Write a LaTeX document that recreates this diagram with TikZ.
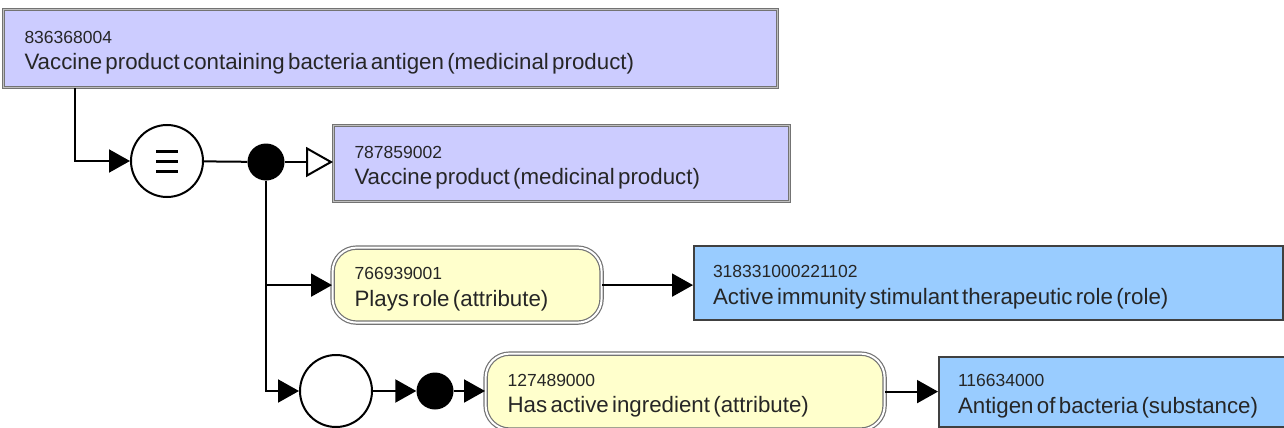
\documentclass[tikz,border=0pt]{standalone}
\usepackage{fontspec}
\setmainfont{Liberation Sans}
\usetikzlibrary{positioning,arrows.meta,calc}

\definecolor{primfill}{RGB}{204,204,255}
\definecolor{valfill}{RGB}{153,204,255}
\definecolor{attrfill}{RGB}{255,255,204}

\newcommand{\idfont}{\fontsize{17.5}{19}\selectfont}
\newcommand{\labfont}{\fontsize{22.3}{26}\selectfont}
\newcommand{\concept}[2]{{\idfont\rule{0pt}{20.5pt}#1}\\[9pt]{\labfont #2}}

\begin{document}
\begin{tikzpicture}[
  x=1pt, y=-1pt,
  primbox/.style={draw=black!55, double=black!25, double distance=1.5pt, line width=1pt,
    fill=primfill, anchor=north west, align=left, inner xsep=21pt, text=black!85},
  valbox/.style={draw=black!75, line width=2pt, fill=valfill, anchor=north west,
    align=left, inner xsep=19pt, text=black!85},
  attrbox/.style={draw=black!55, double=white, double distance=2pt, line width=1.2pt,
    rounded corners=24pt, fill=attrfill, anchor=north west, align=left, inner xsep=22pt, text=black!85},
  ring/.style={circle, draw, line width=2pt, minimum size=72pt, inner sep=0pt, fill=white},
  dot/.style={circle, fill=black, minimum size=37pt, inner sep=0pt},
  arrow/.style={-{Triangle[length=21pt,width=23pt]}, line width=2pt},
  isa/.style={-{Triangle[open,length=27pt,width=30pt]}, line width=2pt},
]
\useasboundingbox (0,0) rectangle (1284,428);

% Defined concept
\node[primbox, minimum width=774pt, minimum height=78pt, text width=732pt] (top) at (3,9)
  {\concept{836368004}{Vaccine product containing bacteria antigen (medicinal product)}};

% Equivalence and conjunction
\node[ring] (eq) at (167,161) {};
\foreach \dy in {-10,0,10}
  \draw[line width=3pt] ($(eq.center)+(-11,\dy)$) -- ++(22,0);
\node[dot] (dot1) at (266,162) {};

% Parent
\node[primbox, minimum width=456pt, minimum height=76pt, text width=414pt] (parent) at (333,125)
  {\concept{787859002}{Vaccine product (medicinal product)}};

% Ungrouped attribute
\node[attrbox, minimum width=269pt, minimum height=75pt, text width=225pt] (role) at (332,247)
  {\concept{766939001}{Plays role (attribute)}};
\node[valbox, minimum width=589pt, minimum height=74pt, text width=551pt] (roleval) at (693,245)
  {\concept{318331000221102}{Active immunity stimulant therapeutic role (role)}};

% Role group
\node[ring] (grp) at (336,391) {};
\node[dot] (dot2) at (435,391) {};
\node[attrbox, minimum width=399pt, minimum height=76pt, text width=355pt] (ingr) at (485,353)
  {\concept{127489000}{Has active ingredient (attribute)}};
\node[valbox, minimum width=350pt, minimum height=70pt, text width=312pt] (ingrval) at (938,356)
  {\concept{116634000}{Antigen of bacteria (substance)}};

% Connectors
\draw[arrow] ([xshift=72pt]top.south west) |- (eq.west);
\draw[line width=2pt] (eq) -- (dot1);
\draw[isa] (dot1) -- (dot1 -| parent.west);
\draw[arrow] (dot1) |- (role.west);
\draw[arrow] (dot1) |- (grp.west);
\draw[arrow] (role.east) -- (role.east -| roleval.west);
\draw[arrow] (grp) -- (dot2);
\draw[arrow] (dot2) -- (dot2 -| ingr.west);
\draw[arrow] (ingr.east) -- (ingr.east -| ingrval.west);

\end{tikzpicture}
\end{document}
